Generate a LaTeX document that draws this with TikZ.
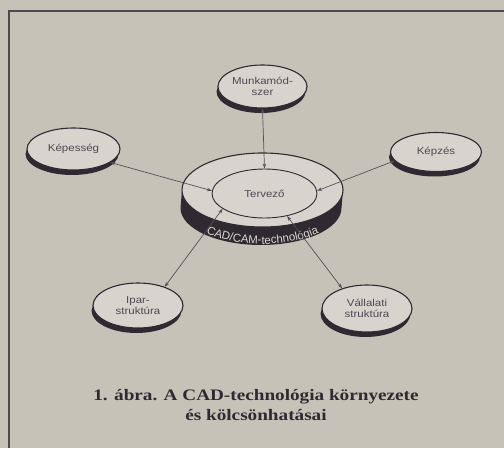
\documentclass[tikz,border=0pt]{standalone}
\usepackage{fontspec}
\newfontfamily\labelfont[FakeStretch=1.15]{Liberation Sans}
\newfontfamily\bandfont{Liberation Sans}
\newfontfamily\capfont[FakeStretch=1.2]{Liberation Serif}
\usetikzlibrary{shapes.geometric,arrows.meta,decorations.text}

\definecolor{paper}{RGB}{199,194,183}
\definecolor{face}{RGB}{216,212,205}
\definecolor{ink}{RGB}{47,41,50}
\definecolor{wire}{RGB}{85,80,88}
\definecolor{labelink}{RGB}{78,72,82}

\tikzset{
  discface/.style={ellipse, draw=ink, line width=1.1pt, fill=face, inner sep=0pt,
    align=center, font=\labelfont\fontsize{10}{11.5}\selectfont, text=labelink},
  innerface/.style={ellipse, draw=ink, line width=0.9pt, fill=face, inner sep=0pt,
    font=\labelfont\fontsize{10}{11.5}\selectfont, text=labelink},
  link/.style={draw=wire, line width=0.7pt,
    {Stealth[length=5pt,width=3.5pt]}-{Stealth[length=5pt,width=3.5pt]}},
}

% \drawdisc{name}{x}{y}{width}{height}{thickness}{label}: a flat cylinder
\newcommand\drawdisc[7]{%
  \fill[ink] (#2-#4/2,#3) -- ++(-1.5,-#6)
    arc[start angle=180,end angle=360,x radius=#4/2,y radius=#5/2]
    -- (#2+#4/2,#3)
    arc[start angle=0,end angle=-180,x radius=#4/2,y radius=#5/2] -- cycle;
  \node[discface, minimum width=#4, minimum height=#5] (#1) at (#2,#3) {#7};
}

\begin{document}
\begin{tikzpicture}[x=1pt,y=1pt]
  \fill[paper] (0,0) rectangle (504,448);
  \useasboundingbox (0,0) rectangle (504,448);

  % frame of the figure
  \draw[ink!85, line width=1.5pt] (504,437) -- (9,437) -- (9,0);

  % central disc
  \drawdisc{outer}{262.5}{258}{161}{74}{18}{}
  \node[innerface, minimum width=105, minimum height=49] (inner) at (264.5,254.5) {Tervező};
  \path[decorate, decoration={text along path, text align=center,
      text={|\bandfont\fontsize{11.5}{12}\selectfont\color{face}|CAD/CAM-technológia}}]
    (262.5,241) ++(200:80 and 37)
    arc[start angle=200,end angle=340,x radius=80,y radius=37];

  % surrounding discs
  \drawdisc{munk}{262.5}{361.5}{89}{43}{5}{Munkamód-\\szer}
  \drawdisc{kep}{73.5}{299}{93}{42}{5}{Képesség}
  \drawdisc{kepzes}{436}{296}{91}{39}{5}{Képzés}
  \drawdisc{ipar}{138}{142.5}{90}{45}{5}{Ipar-\\struktúra}
  \drawdisc{vall}{367}{139.5}{90}{47}{5}{Vállalati\\struktúra}

  % interactions
  \draw[link] (munk.south) -- (inner.north);
  \draw[link] (kep.-20) -- (inner.177);
  \draw[link] (kepzes.192) -- (inner.3);
  \draw[link] (ipar.35) -- (inner.200);
  \draw[link] (vall.141) -- (inner.-45);

  % caption
  \node[font=\capfont\bfseries\fontsize{16}{20}\selectfont, text=ink, align=center]
    (caption) at (256,43) {1. ábra. A CAD-technológia környezete\\és kölcsönhatásai};
\end{tikzpicture}
\end{document}
